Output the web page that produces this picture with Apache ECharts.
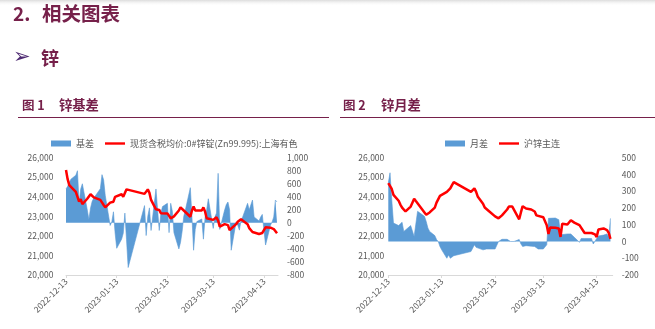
<!DOCTYPE html>
<html><head><meta charset="utf-8">
<script src="https://cdn.jsdelivr.net/npm/echarts@6/dist/echarts.min.js"></script>
<style>html,body{margin:0;padding:0;background:#fff}#c{width:655px;height:329px}</style>
</head><body><div id="c"></div>
<script>
// ---- data ----
const tradeDates = [
'2022-12-13','2022-12-14','2022-12-15','2022-12-16','2022-12-19','2022-12-20','2022-12-21','2022-12-22','2022-12-23','2022-12-26','2022-12-27','2022-12-28','2022-12-29','2022-12-30',
'2023-01-03','2023-01-04','2023-01-05','2023-01-06','2023-01-09','2023-01-10','2023-01-11','2023-01-12','2023-01-13','2023-01-16','2023-01-17','2023-01-18','2023-01-19','2023-01-20','2023-01-30','2023-01-31',
'2023-02-01','2023-02-02','2023-02-03','2023-02-06','2023-02-07','2023-02-08','2023-02-09','2023-02-10','2023-02-13','2023-02-14','2023-02-15','2023-02-16','2023-02-17','2023-02-20','2023-02-21','2023-02-22','2023-02-23','2023-02-24','2023-02-27','2023-02-28',
'2023-03-01','2023-03-02','2023-03-03','2023-03-06','2023-03-07','2023-03-08','2023-03-09','2023-03-10','2023-03-13','2023-03-14','2023-03-15','2023-03-16','2023-03-17','2023-03-20','2023-03-21','2023-03-22','2023-03-23','2023-03-24','2023-03-27','2023-03-28','2023-03-29','2023-03-30','2023-03-31',
'2023-04-03','2023-04-04','2023-04-06','2023-04-07','2023-04-10','2023-04-11','2023-04-12','2023-04-13','2023-04-14','2023-04-17','2023-04-18','2023-04-19','2023-04-20','2023-04-21'
];
// 图1 基差 (right axis)
const basis = [
520,560,620,670,730,800,300,520,600,200,50,230,330,380,
525,740,660,420,-40,15,170,-150,-390,-250,-160,150,-260,-685,265,-195,
100,230,-117,520,200,-117,150,250,300,-150,300,180,-150,-400,-300,-130,100,200,540,90,
-420,-100,20,60,-250,80,200,370,-85,90,150,760,-100,200,280,320,200,-420,15,-35,-112,40,90,
300,200,350,90,30,90,130,-112,-340,-35,15,90,350,320
];
// 图1 现货含税均价 (left axis)
const spotPrice = [
25370,24900,24600,24500,24250,24150,23750,23880,23620,23900,24000,24130,24040,23970,
23840,23750,23580,23460,23700,23800,23750,24000,24060,24130,24000,24090,24380,24450,24150,24100,
24380,24200,23840,23360,23460,23330,23160,23200,23150,23050,22900,22880,23000,23300,23460,23420,23300,23250,22980,23300,
23500,23300,23250,23300,23460,23250,22900,22820,22820,22900,22950,22780,22470,22600,22620,22550,22300,22320,22600,22720,22800,22850,22780,
22600,22400,22200,22210,22100,22050,22150,22100,22440,22420,22400,22350,22300,22130
];
// 图2 月差 (right axis)
const monthSpread = [
350,410,250,110,95,90,115,60,60,95,95,30,30,180,
150,120,80,60,35,12,0,-30,-50,-100,-80,-100,-90,-85,-60,-50,
-20,-35,-45,-50,-50,-45,-45,-45,-45,-50,0,10,13,13,13,0,-10,0,12,-15,
-30,-25,-25,-28,-30,-30,-40,-45,-45,-40,-20,138,135,140,150,130,40,48,45,45,45,45,25,
-5,18,18,18,18,-15,-10,18,33,38,40,45,25,138
];
// 图2 沪锌主连 (left axis)
const futuresMain = [
24700,24780,24400,24100,23800,23600,23450,23350,23250,23500,23700,23900,23780,23700,
23200,23080,23130,23200,23450,23700,23720,24050,24150,24250,24180,24430,24600,24750,24250,24300,
24430,24250,24000,23650,23450,23350,23300,23200,23000,23100,22900,22950,23050,23350,23500,23520,23500,23420,22850,23200,
23520,23450,23400,23350,23450,23250,23050,22950,22950,22750,22550,22100,22430,22420,22400,22380,21950,22620,22580,22650,22800,22780,22680,
22550,22450,22150,22150,22150,22100,22080,21940,22330,22380,22380,22300,22150,21850
];
const xTickLabels = ['2022-12-13','2023-01-13','2023-02-13','2023-03-13','2023-04-13'];
const seriesNames = ['基差','现货含税均价:0#锌锭(Zn99.995):上海有色','月差','沪锌主连'];

// ---- helpers ----
function toTs(s){const p=s.split('-').map(Number);return new Date(p[0],p[1]-1,p[2]).getTime();}
const pair = vals => tradeDates.map((d,i)=>[toTs(d), vals[i]]);
const tickTs = xTickLabels.map(toTs);
const pad = n => String(n).padStart(2,'0');
const fmtDate = v => {const d=new Date(v);return d.getFullYear()+'-'+pad(d.getMonth()+1)+'-'+pad(d.getDate());};
const fmtNum = v => Number(v).toLocaleString('en-US');
const DAY = 86400000;
const FONT = '"Noto Sans CJK SC", "Noto Sans", sans-serif';
const GRAY = '#595959';
const BLUE = '#5b9bd5';
const RED = '#ff0000';
const MAROON = '#76204a';

function xAx(gi, maxDays){
  return {type:'value', gridIndex:gi, min:toTs('2022-12-13'), max:toTs('2022-12-13')+maxDays*DAY, scale:true,
    axisLine:{show:true,onZero:false,lineStyle:{color:'#d9d9d9',width:1}},
    axisTick:{show:true,customValues:tickTs,length:3,lineStyle:{color:'#d9d9d9'}},
    axisLabel:{customValues:tickTs,rotate:45,formatter:fmtDate,fontSize:8.5,color:GRAY,margin:5,fontFamily:FONT},
    splitLine:{show:false}};
}
function yAx(gi, pos, min, max, interval, margin){
  return {type:'value', gridIndex:gi, position:pos, min, max, interval,
    axisLine:{show:false}, axisTick:{show:false}, splitLine:{show:false},
    axisLabel:{formatter:fmtNum,fontSize:8.5,color:GRAY,margin,fontFamily:FONT}};
}
const lineIcon = 'path://M0,0H20V2.4H0Z';

const option = {
  backgroundColor:'#fff',
  animation:false,
  grid:[
    {left:66, top:157.7, width:212, height:117.3},
    {left:388.3, top:157.7, width:224.4, height:117.3}
  ],
  xAxis:[xAx(0,129.6), xAx(1,130.3)],
  yAxis:[
    yAx(0,'left',20000,26000,1000,12.5),
    yAx(0,'right',-800,1000,200,9),
    yAx(1,'left',20000,26000,1000,4),
    yAx(1,'right',-200,500,100,9)
  ],
  legend:[
    {left:46, top:134, itemWidth:20, itemHeight:6, itemGap:11, textStyle:{fontSize:9,color:GRAY,fontFamily:FONT},
     data:[{name:seriesNames[0],icon:'rect'},{name:seriesNames[1],icon:lineIcon}]},
    {left:440, top:134, itemWidth:20, itemHeight:6, itemGap:11, textStyle:{fontSize:9,color:GRAY,fontFamily:FONT},
     data:[{name:seriesNames[2],icon:'rect'},{name:seriesNames[3],icon:lineIcon}]}
  ],
  series:[
    {type:'line', name:seriesNames[0], xAxisIndex:0, yAxisIndex:1, data:pair(basis), symbol:'none',
     lineStyle:{width:0.6,color:BLUE}, itemStyle:{color:BLUE}, areaStyle:{color:BLUE,opacity:1,origin:0}, z:2},
    {type:'line', name:seriesNames[1], xAxisIndex:0, yAxisIndex:0, data:pair(spotPrice), symbol:'none',
     lineStyle:{width:2.5,color:RED}, itemStyle:{color:RED}, z:3},
    {type:'line', name:seriesNames[2], xAxisIndex:1, yAxisIndex:3, data:pair(monthSpread), symbol:'none',
     lineStyle:{width:0.6,color:BLUE}, itemStyle:{color:BLUE}, areaStyle:{color:BLUE,opacity:1,origin:0}, z:2},
    {type:'line', name:seriesNames[3], xAxisIndex:1, yAxisIndex:2, data:pair(futuresMain), symbol:'none',
     lineStyle:{width:2.5,color:RED}, itemStyle:{color:RED}, z:3}
  ],
  graphic:[
    {type:'rect', shape:{x:0,y:0,width:655,height:6}, style:{fill:{type:'linear',x:0,y:0,x2:0,y2:1,colorStops:[{offset:0,color:'#dcdcdc'},{offset:1,color:'rgba(255,255,255,0)'}]}}, silent:true},
    {type:'text', x:13, y:14, style:{text:'2.', font:'bold 19px "Noto Sans CJK SC"', fill:MAROON, verticalAlign:'middle'}},
    {type:'text', x:42, y:14, style:{text:'相关图表', font:'bold 19.5px "Noto Sans CJK SC"', fill:MAROON, verticalAlign:'middle'}},
    {type:'text', x:13, y:58, style:{text:'➢', font:'21px "DejaVu Sans"', fill:'#4e2a72', verticalAlign:'middle'}},
    {type:'text', x:41, y:58, style:{text:'锌', font:'bold 18px "Noto Sans CJK SC"', fill:MAROON, verticalAlign:'middle'}},
    {type:'text', x:22, y:105, style:{text:'图 1', font:'bold 12.5px "Noto Sans CJK SC"', fill:MAROON, verticalAlign:'middle'}},
    {type:'text', x:59, y:105, style:{text:'锌基差', font:'bold 13.3px "Noto Sans CJK SC"', fill:MAROON, verticalAlign:'middle'}},
    {type:'text', x:343, y:105, style:{text:'图 2', font:'bold 12.5px "Noto Sans CJK SC"', fill:MAROON, verticalAlign:'middle'}},
    {type:'text', x:381, y:105, style:{text:'锌月差', font:'bold 13.3px "Noto Sans CJK SC"', fill:MAROON, verticalAlign:'middle'}},
    {type:'line', shape:{x1:18,y1:117.5,x2:329,y2:117.5}, style:{stroke:MAROON,lineWidth:1.2}},
    {type:'line', shape:{x1:340,y1:117.5,x2:655,y2:117.5}, style:{stroke:MAROON,lineWidth:1.2}}
  ]
};
const chart = echarts.init(document.getElementById('c'), null, {renderer:'canvas'});
chart.setOption(option);
</script>
</body></html>
